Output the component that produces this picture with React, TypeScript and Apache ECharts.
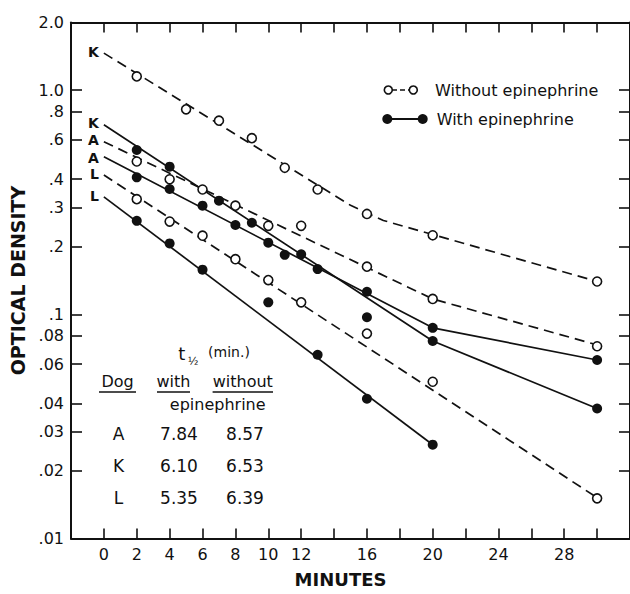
import React, { useEffect, useRef } from 'react';
import * as echarts from 'echarts';

const FONT = 'DejaVu Sans';
const INK = '#111';

// ---- Without epinephrine (open circles) ----
const kWithoutT = [2, 5, 7, 9, 11, 13, 16, 20, 30];
const kWithoutV = [1.15, 0.82, 0.73, 0.61, 0.45, 0.36, 0.28, 0.225, 0.14];
const aWithoutT = [2, 4, 6, 8, 10, 12, 16, 20, 30];
const aWithoutV = [0.48, 0.4, 0.36, 0.305, 0.248, 0.248, 0.163, 0.117, 0.072];
const lWithoutT = [2, 4, 6, 8, 10, 12, 16, 20, 30];
const lWithoutV = [0.326, 0.259, 0.224, 0.176, 0.142, 0.113, 0.082, 0.05, 0.0151];

// ---- With epinephrine (filled circles) ----
const kWithT = [2, 4, 7, 9, 10, 12, 16, 20, 30];
const kWithV = [0.54, 0.455, 0.321, 0.256, 0.113, 0.185, 0.097, 0.076, 0.038];
const aWithT = [2, 4, 6, 8, 10, 11, 13, 16, 20, 30];
const aWithV = [0.408, 0.362, 0.305, 0.25, 0.2085, 0.184, 0.159, 0.126, 0.087, 0.0625];
const lWithT = [2, 4, 6, 13, 16, 20];
const lWithV = [0.261, 0.207, 0.158, 0.066, 0.042, 0.0262];

// ---- Fitted lines ----
const kWithoutFitT = [0, 15, 17, 30];
const kWithoutFitV = [1.46, 0.306, 0.262, 0.14];
const aWithoutFitT = [0, 20, 30];
const aWithoutFitV = [0.588, 0.117, 0.073];
const lWithoutFitT = [0, 30];
const lWithoutFitV = [0.418, 0.0152];
const kWithFitT = [0, 20, 30];
const kWithFitV = [0.7, 0.076, 0.038];
const aWithFitT = [0, 20, 30];
const aWithFitV = [0.504, 0.087, 0.0625];
const lWithFitT = [0, 20];
const lWithFitV = [0.334, 0.0262];

// ---- Axes ----
const yTickValues = [0.01, 0.02, 0.03, 0.04, 0.06, 0.08, 0.1, 0.2, 0.3, 0.4, 0.6, 0.8, 1.0, 2.0];
const xLabelValues = [0, 2, 4, 6, 8, 10, 12, 16, 20, 24, 28];

// ---- Inset table ----
const tableDogs = ['A', 'K', 'L'];
const halfLifeWith = ['7.84', '6.10', '5.35'];
const halfLifeWithout = ['8.57', '6.53', '6.39'];

const pair = (t: number[], v: number[]) => t.map((x, i) => [x, v[i]]);

const yFmt = (v: number) =>
  v >= 1 ? v.toFixed(1) : String(Number(v.toPrecision(3))).replace(/^0/, '');

export default function App() {
  const ref = useRef<HTMLDivElement>(null);

  useEffect(() => {
    const chart = echarts.init(ref.current!, null, { renderer: 'svg' });

    const fitLine = (
      name: string,
      t: number[],
      v: number[],
      dashed: boolean,
      label: string,
      dy: number,
    ) => ({
      type: 'line',
      name,
      data: pair(t, v),
      symbol: 'circle',
      symbolSize: 0,
      showSymbol: true,
      silent: true,
      lineStyle: { color: INK, width: 1.7, type: dashed ? [10, 6] : 'solid', opacity: 1 },
      itemStyle: { color: 'rgba(0,0,0,0)' },
      label: {
        show: true,
        position: 'left',
        distance: 5,
        offset: [0, dy],
        color: INK,
        fontFamily: FONT,
        fontWeight: 'bold',
        fontSize: 14,
        lineHeight: 12,
        formatter: (p: any) => (p.dataIndex === 0 ? label : ''),
      },
      z: 2,
    });

    const points = (name: string, t: number[], v: number[], filled: boolean) => ({
      type: 'scatter',
      name,
      data: pair(t, v),
      symbol: 'circle',
      symbolSize: filled ? 10 : 9,
      silent: true,
      itemStyle: filled
        ? { color: INK, opacity: 1 }
        : { color: '#fff', borderColor: INK, borderWidth: 1.6, opacity: 1 },
      z: 3,
    });

    const txt = (text: string, x: number, y: number, size: number, align = 'center', weight = 'normal') => ({
      type: 'text',
      x,
      y,
      silent: true,
      style: {
        text,
        fill: INK,
        fontFamily: FONT,
        fontSize: size,
        fontWeight: weight,
        align,
        verticalAlign: 'middle',
      },
    });
    const seg = (x1: number, y1: number, x2: number, y2: number, w = 1.5, dash: any = null) => ({
      type: 'line',
      silent: true,
      shape: { x1, y1, x2, y2 },
      style: { stroke: INK, lineWidth: w, lineDash: dash },
    });

    const graphics: any[] = [
      // legend
      seg(392, 90, 409, 90, 1.5, [5, 3]),
      { type: 'circle', silent: true, shape: { cx: 388.3, cy: 90, r: 4 }, style: { fill: '#fff', stroke: INK, lineWidth: 1.6 } },
      { type: 'circle', silent: true, shape: { cx: 413.3, cy: 90, r: 4 }, style: { fill: '#fff', stroke: INK, lineWidth: 1.6 } },
      txt('Without epinephrine', 435, 90, 16, 'left'),
      seg(387, 119, 423, 119, 2),
      { type: 'circle', silent: true, shape: { cx: 387.3, cy: 119, r: 5 }, style: { fill: INK } },
      { type: 'circle', silent: true, shape: { cx: 422.7, cy: 119, r: 5 }, style: { fill: INK } },
      txt('With epinephrine', 436.7, 119, 16, 'left'),
      // table header
      txt('t', 181.7, 353.7, 18),
      txt('½', 193, 361, 11),
      txt('(min.)', 229, 352, 14),
      txt('Dog', 117.5, 381.7, 16),
      txt('with', 173.5, 381.7, 16),
      txt('without', 242.8, 381.7, 16),
      seg(99, 392, 136, 392, 1.5),
      seg(157, 392, 190, 392, 1.5),
      seg(212.6, 392, 273, 392, 1.5),
      txt('epinephrine', 217.7, 404.5, 16),
    ];
    const rowY = [434.4, 466, 497.5];
    tableDogs.forEach((d, i) => {
      graphics.push(txt(d, 118.6, rowY[i], 17));
      graphics.push(txt(halfLifeWith[i], 179, rowY[i], 17));
      graphics.push(txt(halfLifeWithout[i], 245, rowY[i], 17));
    });

    const axisLineStyle = { color: INK, width: 2 };
    const tickStyle = { color: INK, width: 1.6 };

    const option: any = {
      animation: false,
      backgroundColor: '#fff',
      grid: { left: 71, right: -9, top: 22.5, bottom: 55.5, containLabel: false },
      xAxis: [
        {
          type: 'value',
          position: 'bottom',
          min: -2,
          max: 32,
          interval: 2,
          axisLine: { onZero: false, lineStyle: axisLineStyle },
          axisTick: { inside: true, length: 10, lineStyle: tickStyle },
          axisLabel: {
            customValues: xLabelValues,
            margin: 8,
            color: INK,
            fontFamily: FONT,
            fontSize: 16,
          },
          splitLine: { show: false },
          name: 'MINUTES',
          nameLocation: 'middle',
          nameGap: 32,
          nameTextStyle: {
            color: INK,
            fontFamily: FONT,
            fontWeight: 'bold',
            fontSize: 18,
            padding: [0, 20, 0, 0],
          },
        },
        {
          type: 'value',
          position: 'top',
          min: -2,
          max: 32,
          interval: 2,
          axisLine: { onZero: false, lineStyle: axisLineStyle },
          axisTick: { inside: true, length: 10, lineStyle: tickStyle },
          axisLabel: { show: false },
          splitLine: { show: false },
        },
      ],
      yAxis: [
        {
          type: 'log',
          logBase: 10,
          position: 'left',
          min: 0.01,
          max: 2,
          axisLine: { onZero: false, lineStyle: axisLineStyle },
          axisTick: { inside: true, length: 11, lineStyle: tickStyle, customValues: yTickValues },
          axisLabel: {
            customValues: yTickValues,
            formatter: (v: number) => yFmt(v),
            margin: 7,
            color: INK,
            fontFamily: FONT,
            fontSize: 16,
          },
          minorTick: { show: false },
          splitLine: { show: false },
          name: 'OPTICAL DENSITY',
          nameLocation: 'middle',
          nameGap: 42,
          nameRotate: 90,
          nameTextStyle: { color: INK, fontFamily: FONT, fontWeight: 'bold', fontSize: 19 },
        },
        {
          type: 'log',
          logBase: 10,
          position: 'right',
          min: 0.01,
          max: 2,
          axisLine: { onZero: false, lineStyle: axisLineStyle },
          axisTick: { inside: true, length: 11, lineStyle: tickStyle, customValues: yTickValues },
          axisLabel: { show: false },
          splitLine: { show: false },
        },
      ],
      series: [
        fitLine('K without epinephrine (fit)', kWithoutFitT, kWithoutFitV, true, 'K', -1.5),
        fitLine('K with epinephrine (fit)', kWithFitT, kWithFitV, false, 'K', -1.5),
        fitLine('A without epinephrine (fit)', aWithoutFitT, aWithoutFitV, true, 'A', -2),
        fitLine('A with epinephrine (fit)', aWithFitT, aWithFitV, false, 'A', 1),
        fitLine('L without epinephrine (fit)', lWithoutFitT, lWithoutFitV, true, 'L', -1),
        fitLine('L with epinephrine (fit)', lWithFitT, lWithFitV, false, 'L', -1),
        points('K without epinephrine', kWithoutT, kWithoutV, false),
        points('A without epinephrine', aWithoutT, aWithoutV, false),
        points('L without epinephrine', lWithoutT, lWithoutV, false),
        points('K with epinephrine', kWithT, kWithV, true),
        points('A with epinephrine', aWithT, aWithV, true),
        points('L with epinephrine', lWithT, lWithV, true),
      ],
      graphic: graphics,
    };

    chart.setOption(option);
    return () => chart.dispose();
  }, []);

  return (
    <div
      ref={ref}
      style={{ position: 'absolute', left: 0, top: 0, width: 630, height: 594, background: '#fff' }}
    />
  );
}
